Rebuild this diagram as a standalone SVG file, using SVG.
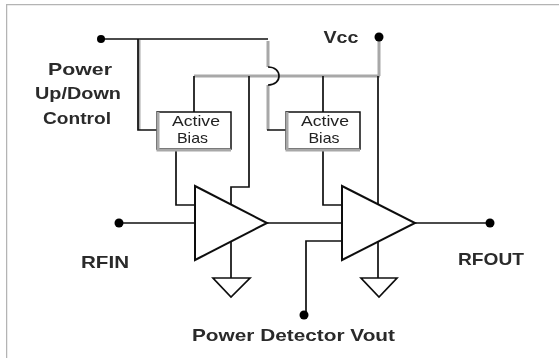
<svg xmlns="http://www.w3.org/2000/svg" width="559" height="358" viewBox="0 0 559 358">
<defs><filter id="soft" x="0" y="0" width="100%" height="100%"><feGaussianBlur stdDeviation="0.4"/></filter></defs>
<style>
.w{fill:none;stroke:#111;stroke-width:1.700}
.g{fill:none;stroke:#a8a8a8;stroke-width:3}
.s{fill:#fff;stroke:#111;stroke-width:2}
.f{fill:#fff;stroke:#111;stroke-width:1.500}
.d{fill:#000}
.t{font-family:"Liberation Sans",Arial,sans-serif;font-weight:bold;font-size:16.500px;fill:#2a2a2a;text-anchor:middle}
.b{font-family:"Liberation Sans",Arial,sans-serif;font-size:14.500px;fill:#222;text-anchor:middle}
</style>
<rect width="559" height="358" fill="#fff"/>
<g filter="url(#soft)">
<path d="M6.500 358V4.500H559" fill="none" stroke="#b4b4b4" stroke-width="1.500"/>
<g id="connectors">
<path class="g" d="M268 41V67M268 85V130M379 40V76M139 40V130M194 76H380"/>
<path class="w" d="M268 67C275 67 279 71 279 76C279 81 275 85 268 85"/>
<path class="w" d="M101 39H268M138 39V130H157M267 130H286M194 76V112M249 76V187H231V204M323 76V112M176 149V205H195M323 149V205H342M378 76V204M119 223H195M267 223H342M415 223H490M342 241H306V315M231 242V278M378 242V278"/>
</g>
<g id="power-dot"><circle class="d" cx="101" cy="39" r="4"/></g>
<g id="vcc-dot"><circle class="d" cx="379" cy="37" r="4.500"/></g>
<g id="rfin-dot"><circle class="d" cx="119" cy="223" r="4.500"/></g>
<g id="rfout-dot"><circle class="d" cx="490" cy="223" r="4.500"/></g>
<g id="detector-dot"><circle class="d" cx="304" cy="315" r="4.500"/></g>
<g id="bias1"><rect class="f" x="157" y="112" width="74" height="37"/><path class="g" d="M158 112V150H231"/><text class="b" x="196" y="126" textLength="48" lengthAdjust="spacingAndGlyphs">Active</text><text class="b" x="192.500" y="143" textLength="31" lengthAdjust="spacingAndGlyphs">Bias</text></g>
<g id="bias2"><rect class="f" x="286" y="112" width="74" height="37"/><path class="g" d="M287 112V150H360"/><text class="b" x="325" y="126" textLength="48" lengthAdjust="spacingAndGlyphs">Active</text><text class="b" x="324" y="143" textLength="31" lengthAdjust="spacingAndGlyphs">Bias</text></g>
<g id="amp1"><path class="s" d="M195 186L267 223L195 260Z"/></g>
<g id="amp2"><path class="s" d="M342 186L415 223L342 260Z"/></g>
<g id="gnd1"><path class="w" d="M213 278H250L231 297Z"/></g>
<g id="gnd2"><path class="w" d="M361 278H397L379 297Z"/></g>
<g id="labels">
<text class="t" x="80" y="75" textLength="64" lengthAdjust="spacingAndGlyphs">Power</text>
<text class="t" x="78" y="99" textLength="86" lengthAdjust="spacingAndGlyphs">Up/Down</text>
<text class="t" x="77" y="124" textLength="68" lengthAdjust="spacingAndGlyphs">Control</text>
<text class="t" x="341" y="43" textLength="35" lengthAdjust="spacingAndGlyphs">Vcc</text>
<text class="t" x="105" y="268" textLength="48" lengthAdjust="spacingAndGlyphs">RFIN</text>
<text class="t" x="491" y="265" textLength="66" lengthAdjust="spacingAndGlyphs">RFOUT</text>
<text class="t" x="293.500" y="341" textLength="203" lengthAdjust="spacingAndGlyphs">Power Detector Vout</text>
</g>
</g>
</svg>
